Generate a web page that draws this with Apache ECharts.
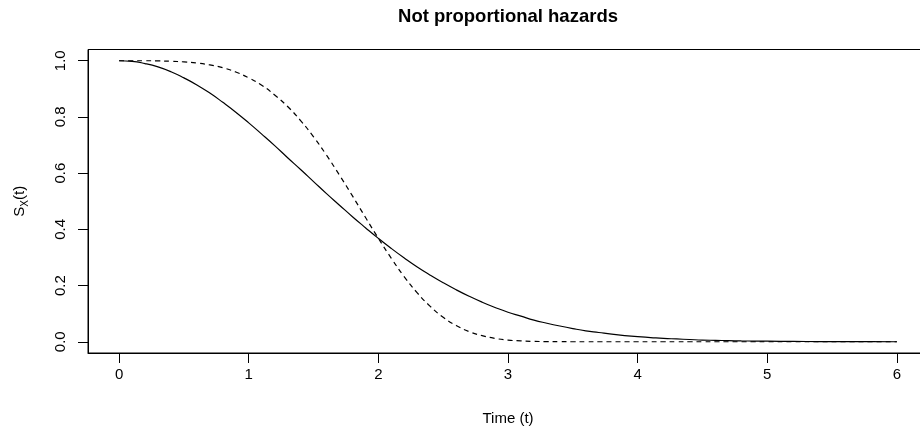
<!DOCTYPE html>
<html>
<head>
<meta charset="utf-8">
<script src="https://cdn.jsdelivr.net/npm/echarts@6/dist/echarts.min.js"></script>
<style>html,body{margin:0;padding:0;background:#fff;overflow:hidden;width:920px;height:436px}#c{width:940px;height:436px}</style>
</head>
<body>
<div id="c"></div>
<script>
var times = [0,0.1,0.2,0.3,0.4,0.5,0.6,0.7,0.8,0.9,1.0,1.1,1.2,1.3,1.4,1.5,1.6,1.7,1.8,1.9,2.0,2.1,2.2,2.3,2.4,2.5,2.6,2.7,2.8,2.9,3.0,3.1,3.2,3.3,3.4,3.5,3.6,3.7,3.8,3.9,4.0,4.1,4.2,4.3,4.4,4.5,4.6,4.7,4.8,4.9,5.0,5.2,5.4,5.6,5.8,6.0];
var solid = [1,0.998,0.990,0.978,0.961,0.939,0.914,0.885,0.852,0.817,0.779,0.739,0.698,0.655,0.613,0.570,0.527,0.486,0.445,0.406,0.368,0.332,0.298,0.266,0.237,0.210,0.185,0.162,0.141,0.122,0.105,0.091,0.077,0.066,0.056,0.047,0.039,0.033,0.027,0.022,0.018,0.015,0.012,0.010,0.008,0.006,0.005,0.004,0.003,0.0025,0.002,0.0012,0.0007,0.0004,0.0002,0.0001];
var dashed = [1,1.000,1.000,0.9995,0.998,0.996,0.992,0.985,0.975,0.960,0.939,0.913,0.878,0.837,0.787,0.729,0.664,0.593,0.519,0.443,0.368,0.297,0.231,0.174,0.126,0.087,0.058,0.036,0.022,0.012,0.006,0.003,0.0014,0.0006,0.0002,0.0001,0,0,0,0,0,0,0,0,0,0,0,0,0,0,0,0,0,0,0,0];
var xTicks = [0,1,2,3,4,5,6];
var yTicks = [0,0.2,0.4,0.6,0.8,1.0];
var titleText = 'Not proportional hazards';
var xName = 'Time (t)';

var chart = echarts.init(document.getElementById('c'), null, {renderer:'canvas'});
var FONT = 'Liberation Sans';
function pairs(ys){ return times.map(function(t,i){ return [t, ys[i]]; }); }
chart.setOption({
  animation: false,
  backgroundColor: '#fff',
  title: {
    text: titleText, left: 503, top: 2, textAlign: 'center',
    textStyle: {fontFamily: FONT, fontWeight: 'bold', fontSize: 18.5, color: '#000'}
  },
  grid: {left: 88, right: 12, top: 49.5, bottom: 83, show: true, borderColor: '#000', borderWidth: 1, backgroundColor: 'transparent', containLabel: false},
  xAxis: {
    type: 'value', min: -0.24, max: 6.24,
    name: xName, nameLocation: 'middle', nameGap: 58,
    nameTextStyle: {fontFamily: FONT, fontSize: 15, color: '#000'},
    axisLine: {show: true, onZero: false, lineStyle: {color: '#000', width: 1}},
    axisTick: {show: true, inside: false, length: 10, customValues: xTicks, lineStyle: {color: '#000'}},
    axisLabel: {show: true, customValues: xTicks, margin: 14, fontFamily: FONT, fontSize: 15, color: '#000',
      formatter: function(v){ return String(v); }},
    splitLine: {show: false}
  },
  yAxis: {
    type: 'value', min: -0.04, max: 1.04,
    name: '{a|S}{b|X}{a|(t)}', nameLocation: 'middle', nameGap: 58, nameRotate: 90,
    nameTextStyle: {fontFamily: FONT, fontSize: 15, color: '#000',
      rich: {a: {fontFamily: FONT, fontSize: 15, color: '#000', lineHeight: 20, verticalAlign: 'middle'},
             b: {fontFamily: FONT, fontSize: 10, color: '#000', lineHeight: 20, verticalAlign: 'bottom', padding: [6,0,0,0]}}},
    axisLine: {show: true, onZero: false, lineStyle: {color: '#000', width: 1}},
    axisTick: {show: true, inside: false, length: 10, customValues: yTicks, lineStyle: {color: '#000'}},
    axisLabel: {show: true, customValues: yTicks, rotate: 90, margin: 20, fontFamily: FONT, fontSize: 15, color: '#000',
      formatter: function(v){ return Number(v).toFixed(1); }},
    splitLine: {show: false}
  },
  series: [
    {type: 'line', data: pairs(solid), smooth: true, showSymbol: false, symbol: 'none', clip: true,
     lineStyle: {color: '#000', width: 1.2, type: 'solid'}},
    {type: 'line', data: pairs(dashed), smooth: true, showSymbol: false, symbol: 'none', clip: true,
     lineStyle: {color: '#000', width: 1.2, type: [5,4]}}
  ]
});
</script>
</body>
</html>
